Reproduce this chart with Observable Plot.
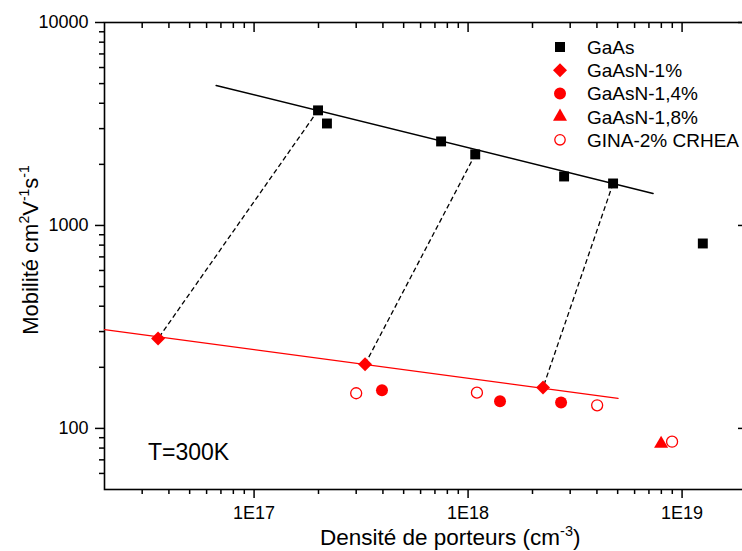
<!DOCTYPE html>
<html><head><meta charset="utf-8">
<script src="https://cdn.jsdelivr.net/npm/d3@7"></script>
<script src="https://cdn.jsdelivr.net/npm/@observablehq/plot@0.6"></script>
<style>body{margin:0;background:#fff} #chart{width:742px;height:551px}</style>
</head><body><div id="chart"></div>
<script>
// ---- data ----
const gaasX = [1.99e17, 2.19e17, 7.48e17, 1.08e18, 2.81e18, 4.76e18, 1.25e19];
const gaasY = [3690, 3180, 2594, 2239, 1743, 1610, 815];
const n1X = [3.56e16, 3.30e17, 2.24e18];
const n1Y = [277, 207, 159];
const n14X = [3.96e17, 1.41e18, 2.72e18];
const n14Y = [154, 136, 134];
const n18X = [7.98e18];
const n18Y = [84];
const ginaX = [3.0e17, 1.10e18, 4.01e18, 8.98e18];
const ginaY = [149, 150, 130, 86];
const fitGaAsX = [6.65e16, 7.32e18];
const fitGaAsY = [4894, 1438];
const fitNX = [2e16, 5.02e18];
const fitNY = [307, 140.6];
const linkGaAsIdx = [0, 3, 5];
const linkN1Idx = [0, 1, 2];
const xMajor = [1e17, 1e18, 1e19];
const yMajor = [100, 1000, 10000];
const legendLabels = ["GaAs", "GaAsN-1%", "GaAsN-1,4%", "GaAsN-1,8%", "GINA-2% CRHEA"];

const pts = (xs, ys) => xs.map((x, i) => ({x, y: ys[i]}));
const gaas = pts(gaasX, gaasY), n1 = pts(n1X, n1Y), n14 = pts(n14X, n14Y),
      n18 = pts(n18X, n18Y), gina = pts(ginaX, ginaY);
const links = linkGaAsIdx.map((g, i) => ({x1: gaasX[g], y1: gaasY[g], x2: n1X[linkN1Idx[i]], y2: n1Y[linkN1Idx[i]]}));
const minorOf = (lo, hi) => { const r = []; for (let e = lo; e < hi; e++) for (let m = 2; m <= 9; m++) r.push(m * 10 ** e); return r; };
const xMinor = minorOf(16, 19).filter(v => v > 2e16 && v < 2e19);
const yMinor = minorOf(1, 4).filter(v => v > 50 && v < 10000);
const font = "'Liberation Sans', Arial, sans-serif";

const plot = Plot.plot({
  width: 742, height: 551,
  marginLeft: 104, marginRight: -4, marginTop: 22, marginBottom: 62,
  style: {fontFamily: font, background: "white", color: "black"},
  x: {type: "log", domain: [2e16, 2e19]},
  y: {type: "log", domain: [50, 10000]},
  marks: [
    Plot.axisY(yMajor, {anchor: "left", tickSize: 9, tickPadding: 7, fontSize: 18, tickFormat: d => String(d), label: null, strokeWidth: 1.5}),
    Plot.axisY(yMinor, {anchor: "left", tickSize: 5, fill: "none", label: null, strokeWidth: 1.5}),
    Plot.axisY(yMajor, {anchor: "right", tickSize: -9, fill: "none", label: null, strokeWidth: 1.5}),
    Plot.axisY(yMinor, {anchor: "right", tickSize: -5, fill: "none", label: null, strokeWidth: 1.5}),
    Plot.axisX(xMajor, {anchor: "bottom", tickSize: 9, tickPadding: 8, fontSize: 18, tickFormat: d => "1E" + Math.round(Math.log10(d)), label: null, strokeWidth: 1.5}),
    Plot.axisX(xMinor, {anchor: "bottom", tickSize: 5, fill: "none", label: null, strokeWidth: 1.5}),
    Plot.axisX(xMajor, {anchor: "top", tickSize: -9, fill: "none", label: null, strokeWidth: 1.5}),
    Plot.axisX(xMinor, {anchor: "top", tickSize: -5, fill: "none", label: null, strokeWidth: 1.5}),
    Plot.frame({stroke: "black", strokeWidth: 1.6}),
    Plot.line(pts(fitGaAsX, fitGaAsY), {x: "x", y: "y", stroke: "black", strokeWidth: 1.5}),
    Plot.line(pts(fitNX, fitNY), {x: "x", y: "y", stroke: "red", strokeWidth: 1.3}),
    Plot.link(links, {x1: "x1", y1: "y1", x2: "x2", y2: "y2", stroke: "black", strokeWidth: 1.3, strokeDasharray: "5,3"}),
    Plot.dot(gaas, {x: "x", y: "y", symbol: "square", r: 5.6, fill: "black"}),
    Plot.dot(n1, {x: "x", y: "y", symbol: "diamond2", r: 6.3, fill: "red"}),
    Plot.dot(n14, {x: "x", y: "y", symbol: "circle", r: 6, fill: "red"}),
    Plot.dot(n18, {x: "x", y: "y", symbol: "triangle", r: 5.2, fill: "red"}),
    Plot.dot(gina, {x: "x", y: "y", symbol: "circle", r: 5.5, fill: "white", stroke: "red", strokeWidth: 1.3})
  ]
});
document.getElementById("chart").appendChild(plot);

const svg = d3.select(plot);
// Legend
const legSymbols = [
  {type: d3.symbolSquare, size: 100, fill: "black", stroke: "none"},
  {type: d3.symbolDiamond2, size: 125, fill: "red", stroke: "none"},
  {type: d3.symbolCircle, size: 113, fill: "red", stroke: "none"},
  {type: d3.symbolTriangle, size: 85, fill: "red", stroke: "none"},
  {type: d3.symbolCircle, size: 85, fill: "white", stroke: "red"}
];
const leg = svg.append("g").attr("font-family", font).attr("font-size", 19).attr("text-anchor", "start");
legendLabels.forEach((lab, i) => {
  const cy = 47 + i * 23.2;
  const s = legSymbols[i];
  leg.append("path").attr("transform", `translate(560,${cy})`)
    .attr("d", d3.symbol(s.type, s.size)())
    .attr("fill", s.fill).attr("stroke", s.stroke).attr("stroke-width", 1.3);
  leg.append("text").attr("x", 587).attr("y", cy + 7).text(lab);
});
// Annotation
svg.append("text").attr("x", 148).attr("y", 460).attr("text-anchor", "start")
  .attr("font-family", font).attr("font-size", 23).text("T=300K");
// X title
const xt = svg.append("text").attr("x", 320).attr("y", 545).attr("text-anchor", "start")
  .attr("font-family", font).attr("font-size", 22.5);
xt.append("tspan").text("Densité de porteurs (cm");
xt.append("tspan").attr("dy", -9).attr("font-size", 14.5).text("-3");
xt.append("tspan").attr("dy", 9).text(")");
// Y title
const yt = svg.append("text").attr("transform", "translate(38,250) rotate(-90)").attr("text-anchor", "middle")
  .attr("font-family", font).attr("font-size", 22);
yt.append("tspan").text("Mobilité cm");
yt.append("tspan").attr("dy", -9).attr("font-size", 14).text("2");
yt.append("tspan").attr("dy", 9).text("V");
yt.append("tspan").attr("dy", -9).attr("font-size", 14).text("-1");
yt.append("tspan").attr("dy", 9).text("s");
yt.append("tspan").attr("dy", -9).attr("font-size", 14).text("-1");
</script>
</body></html>
